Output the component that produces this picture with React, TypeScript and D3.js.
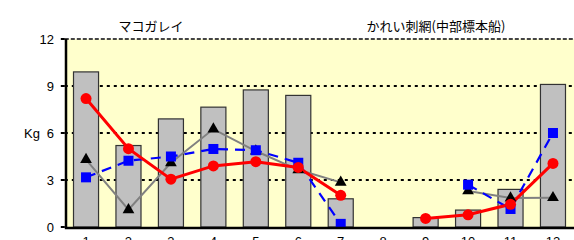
import React from "react";
import * as d3 from "d3";

const months = ["1","2","3","4","5","6","7","8","9","10","11","12"];
const barValues: (number|null)[] = [9.9,5.2,6.9,7.65,8.75,8.4,1.8,null,0.6,1.08,2.4,9.1];
const redValues: (number|null)[] = [8.2,5.0,3.05,3.9,4.17,3.8,2.02,null,0.55,0.78,1.45,4.06];
const blueValues: (number|null)[] = [3.17,4.23,4.5,4.98,4.9,4.1,0.2,null,null,2.7,1.15,6.0];
const grayValues: (number|null)[] = [4.3,1.1,4.1,6.25,4.85,3.65,2.85,null,null,2.3,1.85,1.87];
const yTicks = [0,3,6,9,12];
const title1 = "マコガレイ";
const title2 = "かれい刺網(中部標本船)";

export default function App() {
  const W = 574, H = 240;
  const left = 64.8, right = 574.2, top = 39, bottom = 227;
  const x = d3.scalePoint<string>().domain(months).range([left, right]).padding(0.5);
  const step = x.step();
  const bw = step * 0.59;
  const y = d3.scaleLinear().domain([0, 12]).range([bottom, top]);
  const mk = (vals: (number|null)[]) =>
    d3.line<number|null>()
      .defined(d => d !== null)
      .x((_, i) => x(months[i])!)
      .y(d => y(d as number))(vals) || "";
  const font = "'Liberation Sans', Arial, sans-serif";
  const cjk = "'Noto Sans CJK JP', sans-serif";
  return (
    <svg width={W} height={H} style={{ position: "absolute", left: 0, top: 0, background: "#fff" }}>
      <rect x={left} y={top} width={W - left + 2} height={bottom - top} fill="#FFFFCC" />
      {yTicks.filter(t => t > 0 && t < 12).map(t => (
        <line key={t} x1={left} x2={W} y1={y(t)} y2={y(t)} stroke="#000" strokeWidth={2} strokeDasharray="3,4" />
      ))}
      <line x1={left} x2={W} y1={top} y2={top} stroke="#444" strokeWidth={2} strokeDasharray="4,2" />
      {barValues.map((v, i) => v === null ? null : (
        <rect key={i} x={x(months[i])! - bw / 2} y={y(v)} width={bw} height={bottom - y(v)} fill="#C0C0C0" stroke="#333" strokeWidth={1.2} />
      ))}
      <path d={mk(grayValues)} fill="none" stroke="#808080" strokeWidth={2} />
      <path d={mk(blueValues)} fill="none" stroke="#0000FF" strokeWidth={2.2} strokeDasharray="10,7" />
      <path d={mk(redValues)} fill="none" stroke="#FF0000" strokeWidth={3} />
      {grayValues.map((v, i) => v === null ? null : (
        <path key={i} d={d3.symbol(d3.symbolTriangle, 60)()!} transform={`translate(${x(months[i])},${y(v)})`} fill="#000" />
      ))}
      {blueValues.map((v, i) => v === null ? null : (
        <rect key={i} x={x(months[i])! - 5} y={y(v) - 5} width={10} height={10} fill="#0000FF" />
      ))}
      {redValues.map((v, i) => v === null ? null : (
        <circle key={i} cx={x(months[i])} cy={y(v)} r={5.5} fill="#FF0000" />
      ))}
      <line x1={left + 1.2} x2={left + 1.2} y1={top} y2={bottom + 1} stroke="#000" strokeWidth={2.5} />
      <line x1={left} x2={W} y1={bottom + 1} y2={bottom + 1} stroke="#000" strokeWidth={2.5} />
      {yTicks.map(t => (
        <g key={t}>
          <line x1={left - 4} x2={left} y1={y(t)} y2={y(t)} stroke="#000" strokeWidth={2} />
          <text x={54} y={y(t) + 4.7} textAnchor="end" fontFamily={font} fontSize={13} fill="#000">{t}</text>
        </g>
      ))}
      <text x={24} y={y(6) + 4.7} fontFamily={font} fontSize={13} fill="#000">Kg</text>
      {months.map(m => (
        <text key={m} x={x(m)} y={245.5} textAnchor="middle" fontFamily={font} fontSize={13} fill="#000">{m}</text>
      ))}
      <text x={151} y={31} textAnchor="middle" fontFamily={cjk} fontSize={13} fill="#000">{title1}</text>
      <text x={436} y={31} textAnchor="middle" fontFamily={cjk} fontSize={13} fill="#000">{title2}</text>
    </svg>
  );
}
